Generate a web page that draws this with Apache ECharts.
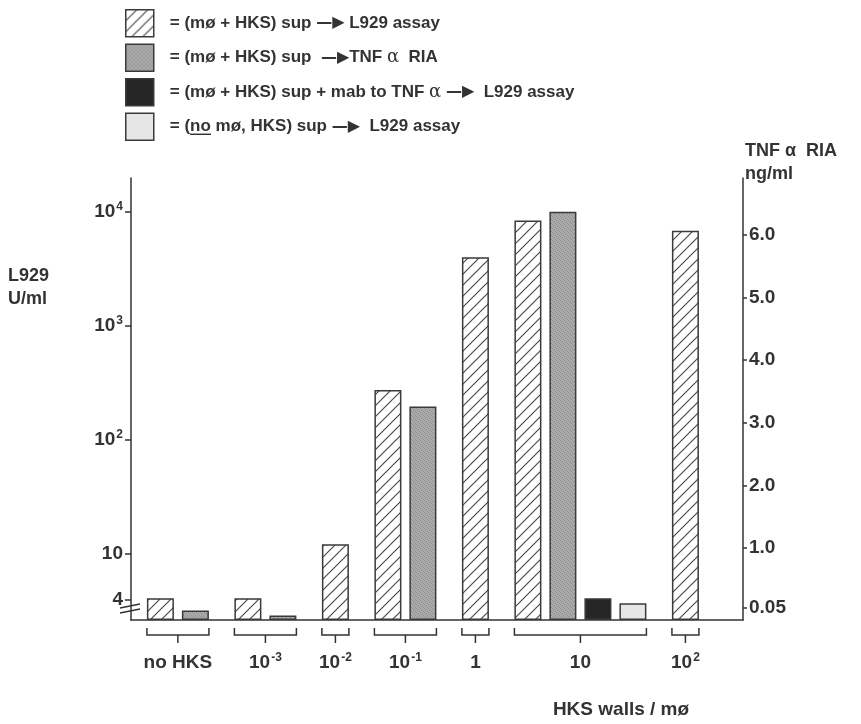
<!DOCTYPE html>
<html><head><meta charset="utf-8">
<script src="https://cdn.jsdelivr.net/npm/echarts@6/dist/echarts.min.js"></script>
<style>html,body{margin:0;padding:0;background:#fff}#c{width:861px;height:724px}</style>
</head><body><div id="c"></div>
<script>
// ---------------- data ----------------
const categories = ['no HKS', '10^-3', '10^-2', '10^-1', '1', '10', '10^2'];
const categoryLabels = ['{t|no HKS}', '{b|10}{s|-3}', '{b|10}{s|-2}', '{b|10}{s|-1}', '{b|1}', '{b|10}', '{b|10}{s|2}'];
const seriesNames = [
  '(mø + HKS) sup → L929 assay',
  '(mø + HKS) sup → TNF α RIA',
  '(mø + HKS) sup + mab to TNF α → L929 assay',
  '(no mø, HKS) sup → L929 assay'
];
const legendLabels = [
  '= (mø + HKS) sup {a|—▶} L929 assay',
  '= (mø + HKS) sup  {a|—▶}TNF {g|α}  RIA',
  '= (mø + HKS) sup + mab to TNF {g|α} {a|—▶}  L929 assay',
  '= ({u|no} mø, HKS) sup {a|—▶}  L929 assay'
];
// L929 U/ml (left, log axis)
const l929Assay = [4.1, 4.1, 12.2, 275, 4000, 8400, 6850];
// TNF alpha RIA ng/ml (right, linear axis)
const tnfRia = [0.0, -0.08, null, 3.26, null, 6.37, null];
// with mab to TNF alpha, L929 U/ml
const mabL929 = [null, null, null, null, null, 4.1, null];
// no macrophages, L929 U/ml
const noMacL929 = [null, null, null, null, null, 3.7, null];
const leftTicks = [4, 10, 100, 1000, 10000];
const rightTicks = [0.05, 1, 2, 3, 4, 5, 6];
const xAxisTitle = 'HKS walls / mø';
const leftAxisTitle = 'L929\nU/ml';
const rightAxisTitle = 'TNF α  RIA\nng/ml';

// ---------------- layout helpers ----------------
const BAR_W = 27;
const PITCH_IN_GROUP = 2, PITCH_BETWEEN = 3;
const seriesValues = [l929Assay, tnfRia, mabL929, noMacL929];
const seriesAxis = [0, 1, 0, 0];
const positions = seriesValues.map(() => []);
const groups = [];
let pos = null;
categories.forEach((c, ci) => {
  let start = null, end = null, k = 0;
  seriesValues.forEach((arr, si) => {
    if (arr[ci] == null) return;
    pos = pos == null ? 0 : pos + (k === 0 ? PITCH_BETWEEN : PITCH_IN_GROUP);
    positions[si].push([pos, arr[ci]]);
    if (start == null) start = pos;
    end = pos; k++;
  });
  groups.push([start, end, ci]);
});

// patterns
function hatchPattern() {
  const s = 11, cv = document.createElement('canvas');
  cv.width = s; cv.height = s;
  const g = cv.getContext('2d');
  g.fillStyle = '#ffffff'; g.fillRect(0, 0, s, s);
  g.strokeStyle = '#4a4a4a'; g.lineWidth = 1.2;
  g.beginPath();
  g.moveTo(-1, s + 1); g.lineTo(s + 1, -1);
  g.moveTo(-1, 1); g.lineTo(1, -1);
  g.moveTo(s - 1, s + 1); g.lineTo(s + 1, s - 1);
  g.stroke();
  return { image: cv, repeat: 'repeat' };
}
function stipplePattern() {
  const cv = document.createElement('canvas');
  cv.width = 4; cv.height = 4;
  const g = cv.getContext('2d');
  g.fillStyle = '#ababab'; g.fillRect(0, 0, 4, 4);
  g.fillStyle = '#8e8e8e';
  [[0,0],[2,1],[1,2],[3,3]].forEach(p => g.fillRect(p[0], p[1], 1, 1));
  return { image: cv, repeat: 'repeat' };
}
function underlineImg() {
  const cv = document.createElement('canvas');
  cv.width = 20; cv.height = 20;
  const g = cv.getContext('2d');
  g.fillStyle = '#333'; g.fillRect(0, 18, 20, 2);
  return cv;
}
const fills = [hatchPattern(), stipplePattern(), '#262626', '#e6e6e6'];

const FONT = 'Liberation Sans, Arial, sans-serif';
const INK = '#333';
const chart = echarts.init(document.getElementById('c'));

const rich = {
  b: { fontSize: 19, fontWeight: 'bold', fontFamily: FONT, color: INK, lineHeight: 22 },
  s: { fontSize: 12, fontWeight: 'bold', fontFamily: FONT, color: INK, verticalAlign: 'top', lineHeight: 22, padding: [0, 0, 0, 1] },
  t: { fontSize: 19, fontWeight: 'bold', fontFamily: FONT, color: INK, lineHeight: 22 }
};

const barSeries = seriesValues.map((v, i) => ({
  type: 'bar',
  name: seriesNames[i],
  yAxisIndex: seriesAxis[i],
  data: positions[i],
  barWidth: BAR_W,
  barGap: '-100%',
  itemStyle: { color: fills[i], borderColor: '#3a3a3a', borderWidth: 1.5 },
  emphasis: { disabled: true },
  silent: true
}));

const baseGraphic = [
  { type: 'text', left: 8, top: 265, style: { text: leftAxisTitle, fontSize: 18, fontWeight: 'bold', fontFamily: FONT, fill: INK, lineHeight: 23 } },
  { type: 'text', left: 745, top: 140, style: { text: rightAxisTitle, fontSize: 18, fontWeight: 'bold', fontFamily: FONT, fill: INK, lineHeight: 23 } },
  { type: 'text', x: 621, y: 710, style: { text: xAxisTitle, fontSize: 19, fontWeight: 'bold', fontFamily: FONT, fill: INK, align: 'center', verticalAlign: 'middle' } }
];

const option = {
  animation: false,
  backgroundColor: '#fff',
  grid: { left: 131, right: 118, top: 178, bottom: 104 },
  legend: {
    orient: 'vertical', left: 125, top: 9, padding: 0,
    itemWidth: 28, itemHeight: 27, itemGap: 6,
    selectedMode: false,
    icon: 'rect',
    itemStyle: { borderColor: '#3a3a3a', borderWidth: 1.5 },
    data: seriesNames,
    formatter: name => legendLabels[seriesNames.indexOf(name)],
    textStyle: {
      fontSize: 17, fontWeight: 'bold', fontFamily: FONT, color: INK, padding: [0, 0, 0, 11],
      rich: {
        a: { fontSize: 16, fontFamily: 'DejaVu Sans', color: INK },
        g: { fontSize: 18, fontWeight: 'normal', fontFamily: 'DejaVu Serif', color: INK },
        u: { fontSize: 17, fontWeight: 'bold', fontFamily: FONT, color: INK, backgroundColor: { image: underlineImg() }, lineHeight: 21 }
      }
    }
  },
  xAxis: {
    type: 'value', min: -1.68, max: 33.29,
    axisLine: { show: true, onZero: false, lineStyle: { color: INK, width: 1.5 } },
    axisTick: { show: false }, axisLabel: { show: false }, splitLine: { show: false }
  },
  yAxis: [
    {
      type: 'log', logBase: 10, min: 2.637, max: 19860, startValue: 2.637, position: 'left',
      axisLine: { show: true, onZero: false, lineStyle: { color: INK, width: 1.5 } },
      axisTick: { show: true, length: 6, customValues: leftTicks, lineStyle: { color: INK, width: 1.5 } },
      axisLabel: {
        customValues: leftTicks, margin: 8,
        formatter: v => {
          const e = Math.round(Math.log10(v));
          if (Math.abs(v - 4) < 0.01) return '{b|4}';
          if (e === 1) return '{b|10}';
          return '{b|10}{s|' + e + '}';
        },
        rich: rich
      },
      splitLine: { show: false }
    },
    {
      type: 'value', min: -0.15, max: 6.91, startValue: -0.15, position: 'right',
      axisLine: { show: true, onZero: false, lineStyle: { color: INK, width: 1.5 } },
      axisTick: { show: true, length: 4, customValues: rightTicks, lineStyle: { color: INK, width: 1.5 } },
      axisLabel: {
        customValues: rightTicks, margin: 6,
        formatter: v => (v < 0.5 ? v.toFixed(2) : v.toFixed(1)),
        fontSize: 19, fontWeight: 'bold', fontFamily: FONT, color: INK
      },
      splitLine: { show: false }
    }
  ],
  series: barSeries.concat([{
    type: 'custom',
    silent: true,
    xAxisIndex: 0, yAxisIndex: 0,
    clip: false,
    data: groups,
    renderItem: (params, api) => {
      const cs = params.coordSys;
      const base = cs.y + cs.height;
      const x0 = api.coord([api.value(0), 10])[0] - BAR_W / 2;
      const x1 = api.coord([api.value(1), 10])[0] + BAR_W / 2;
      const xc = (x0 + x1) / 2;
      const idx = api.value(2);
      return {
        type: 'group',
        children: [
          { type: 'polyline', shape: { points: [[x0, base + 8], [x0, base + 15], [x1, base + 15], [x1, base + 8]] },
            style: { stroke: INK, lineWidth: 1.5, fill: null } },
          { type: 'line', shape: { x1: xc, y1: base + 15, x2: xc, y2: base + 23 },
            style: { stroke: INK, lineWidth: 1.5 } },
          { type: 'text', x: xc, y: base + 43,
            style: { text: categoryLabels[idx], rich: rich, align: 'center', verticalAlign: 'middle',
                     fontSize: 19, fontWeight: 'bold', fontFamily: FONT, fill: INK } }
        ]
      };
    }
  }]),
  graphic: baseGraphic
};
chart.setOption(option);

// axis break marks on the left axis
const by = chart.convertToPixel({ yAxisIndex: 0 }, 3.3);
const bx = chart.convertToPixel({ xAxisIndex: 0 }, -1.68);
chart.setOption({
  graphic: baseGraphic.concat([
    { type: 'line', shape: { x1: bx - 11, y1: by - 1, x2: bx + 9, y2: by - 5 }, style: { stroke: INK, lineWidth: 1.5 } },
    { type: 'line', shape: { x1: bx - 11, y1: by + 4, x2: bx + 9, y2: by }, style: { stroke: INK, lineWidth: 1.5 } }
  ])
}, { replaceMerge: ['graphic'] });
</script>
</body></html>
